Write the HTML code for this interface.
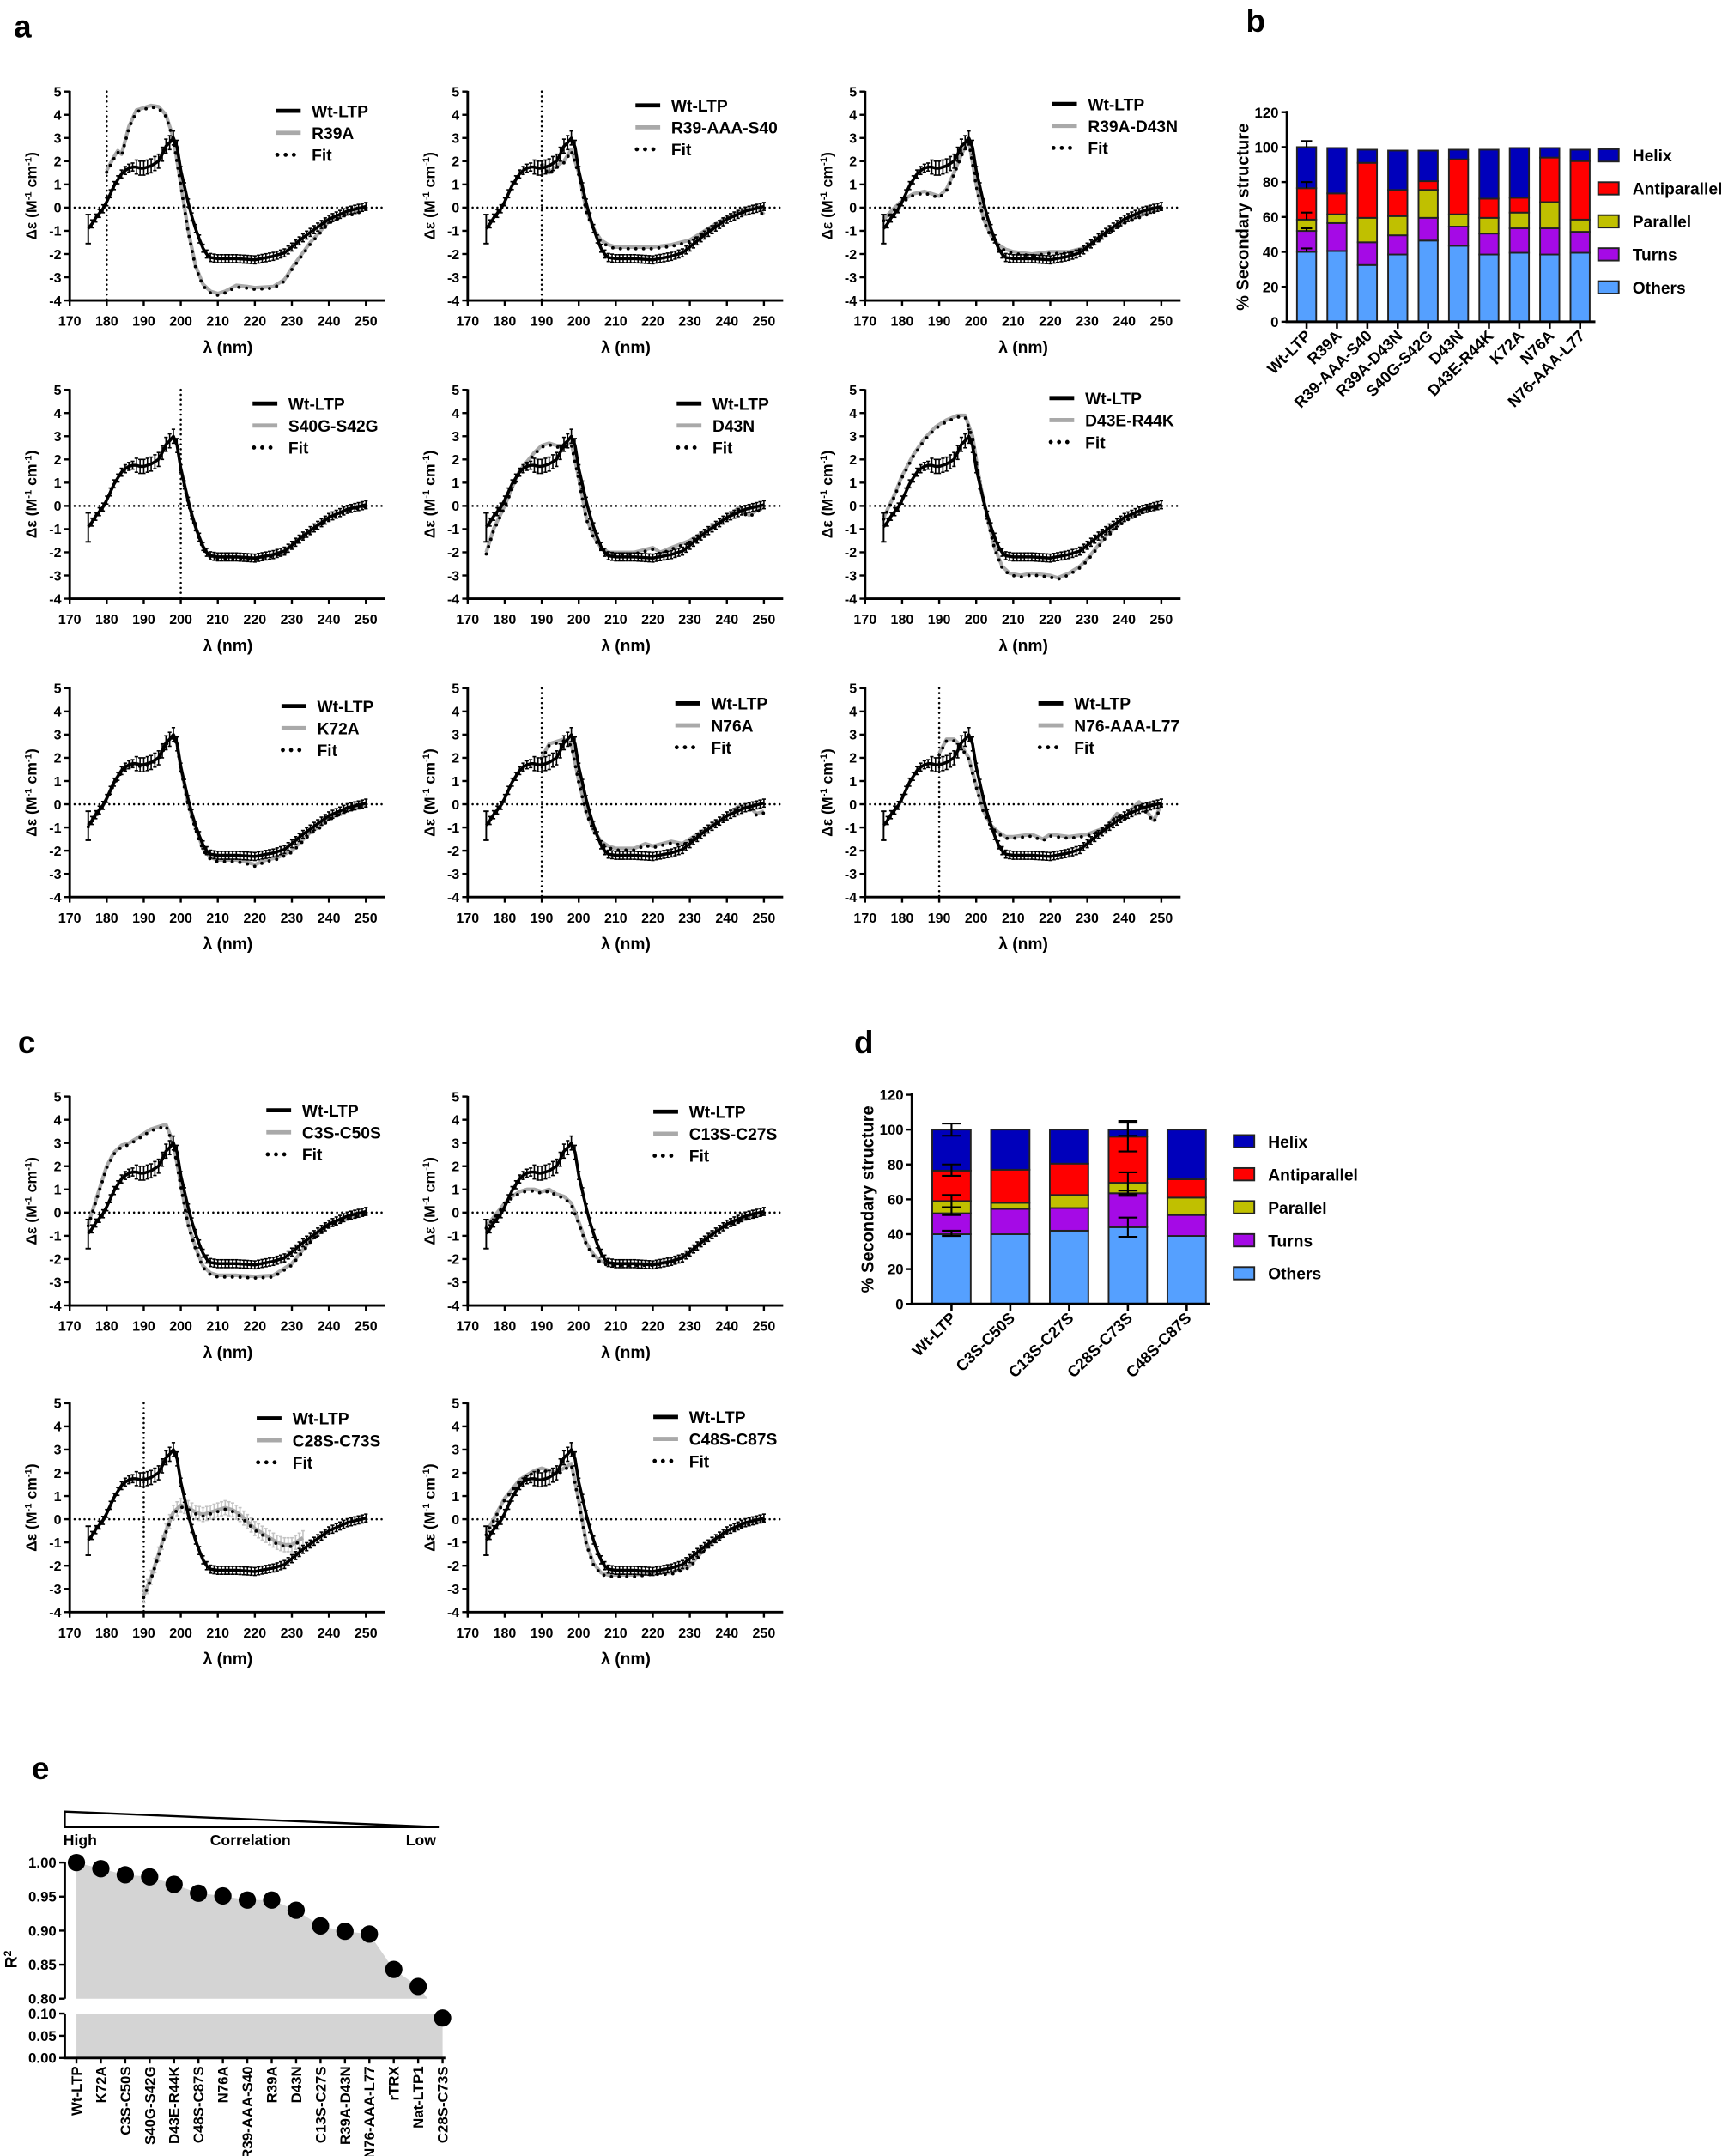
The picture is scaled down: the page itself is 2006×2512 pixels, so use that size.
<!DOCTYPE html>
<html><head><meta charset="utf-8"><style>
html,body{margin:0;padding:0;background:#fff}
svg{display:block}
text{font-family:"Liberation Sans",Arial,sans-serif;font-weight:bold;fill:#000}
</style></head><body>
<svg id="s" xmlns="http://www.w3.org/2000/svg" width="2006" height="2512" viewBox="0 0 1252 1568"></svg>
<script>
const S=document.getElementById('s');const NS='http://www.w3.org/2000/svg';
function el(t,a,txt){const e=document.createElementNS(NS,t);for(const k in a)e.setAttribute(k,a[k]);if(txt!==undefined)e.textContent=txt;S.appendChild(e);return e;}
function line(x1,y1,x2,y2,st,w,extra){return el('line',Object.assign({x1,y1,x2,y2,stroke:st||'#000','stroke-width':w||1.5},extra||{}));}
function txt(x,y,s,fs,anchor,extra){return el('text',Object.assign({x,y,'font-size':fs,'text-anchor':anchor||'start'},extra||{}),s);}
function interp(a,l){if(l<=a[0][0])return a[0][1];for(let i=1;i<a.length;i++){if(l<=a[i][0]){const t=(l-a[i-1][0])/(a[i][0]-a[i-1][0]);return a[i-1][1]+t*(a[i][1]-a[i-1][1]);}}return a[a.length-1][1];}
const W=[[175,-0.9],[176,-0.7],[177,-0.45],[178,-0.25],[179,-0.05],[180,0.25],[181,0.6],[182,0.95],[183,1.2],[184,1.45],[185,1.6],[186,1.7],[187,1.75],[188,1.75],[189,1.7],[190,1.7],[191,1.75],[192,1.8],[193,1.9],[194,2.0],[195,2.3],[196,2.65],[197,2.8],[198,3.0],[199,2.6],[200,1.6],[201,0.9],[202,0.2],[203,-0.4],[204,-0.9],[205,-1.35],[206,-1.75],[207,-2.0],[208,-2.15],[210,-2.2],[215,-2.2],[220,-2.25],[225,-2.1],[228,-1.95],[230,-1.7],[233,-1.3],[236,-0.95],[240,-0.5],[245,-0.15],[250,0.05]];
function wtFrom(l0,extra){return W.filter(p=>p[0]>=l0&&p[0]<=200).concat(extra);}
const plots=[
 {ox:50.6,oy:66.6,name:'R39A',v:180,lx:150,ly:14,d:[[180,1.6],[182,2.2],[183,2.45],[184,2.3],[186,3.5],[188,4.2],[190,4.3],[192,4.4],[194,4.35],[196,4.0],[198,3.0],[200,1.0],[202,-1.0],[204,-2.5],[206,-3.3],[208,-3.6],[210,-3.7],[212,-3.6],[215,-3.35],[218,-3.4],[220,-3.45],[225,-3.4],[228,-3.1],[230,-2.6],[235,-1.5],[240,-0.6],[245,-0.2],[247,-0.25],[250,0.05]]},
 {ox:340,oy:66.6,name:'R39-AAA-S40',v:190,lx:122,ly:10,d:[[190,1.9],[192,1.5],[194,1.8],[196,2.0],[198,2.5],[200,1.5],[202,-0.1],[204,-0.9],[206,-1.4],[208,-1.6],[210,-1.7],[215,-1.7],[220,-1.7],[225,-1.6],[230,-1.4],[235,-0.9],[240,-0.4],[245,-0.1],[248,0.1],[250,-0.3]]},
 {ox:629,oy:66.6,name:'R39A-D43N',v:null,lx:136,ly:9,d:[[175,-0.5],[178,0],[180,0.3],[183,0.6],[186,0.7],[188,0.6],[190,0.5],[192,0.8],[194,1.5],[196,2.3],[198,2.9],[200,1.0],[202,-0.5],[204,-1.2],[206,-1.6],[208,-1.8],[210,-1.9],[215,-2.0],[220,-1.9],[225,-1.9],[230,-1.7],[235,-1.1],[240,-0.6],[245,-0.3],[250,0.0]]},
 {ox:50.6,oy:283.5,name:'S40G-S42G',v:200,lx:133,ly:10,d:W.filter(p=>p[0]>=200)},
 {ox:340,oy:283.5,name:'D43N',v:null,lx:152,ly:10,d:[[175,-2.0],[177,-1.0],[180,0],[182,0.8],[184,1.5],[186,1.9],[188,2.3],[190,2.6],[192,2.7],[194,2.6],[196,2.6],[198,2.7],[200,1.2],[202,-0.5],[204,-1.3],[206,-1.8],[208,-2.0],[210,-2.0],[215,-2.0],[220,-1.8],[222,-2.0],[225,-1.8],[230,-1.5],[235,-1.0],[240,-0.5],[243,-0.1],[246,-0.4],[250,0]]},
 {ox:629,oy:283.5,name:'D43E-R44K',v:null,lx:134,ly:6,d:[[175,-0.5],[178,0.5],[180,1.3],[183,2.2],[186,2.9],[189,3.4],[192,3.7],[195,3.9],[197,3.9],[199,3.0],[201,1.0],[203,-0.5],[205,-1.8],[207,-2.6],[209,-2.9],[212,-3.0],[215,-2.9],[220,-3.0],[222,-3.1],[225,-2.9],[228,-2.6],[230,-2.3],[235,-1.3],[240,-0.6],[245,-0.2],[250,0]]},
 {ox:50.6,oy:500.5,name:'K72A',v:null,lx:154,ly:13,d:wtFrom(175,[[202,0.0],[204,-1.0],[206,-1.9],[208,-2.3],[210,-2.4],[215,-2.4],[218,-2.5],[220,-2.6],[223,-2.4],[226,-2.3],[230,-2.0],[235,-1.2],[238,-0.9],[240,-0.6],[245,-0.2],[250,0]])},
 {ox:340,oy:500.5,name:'N76A',v:190,lx:151,ly:11,d:[[190,2.0],[192,2.6],[194,2.7],[196,2.8],[198,2.6],[200,1.0],[202,-0.3],[204,-1.1],[206,-1.6],[208,-1.8],[210,-1.9],[215,-1.9],[218,-1.7],[220,-1.8],[225,-1.6],[228,-1.7],[230,-1.5],[235,-1.0],[240,-0.5],[243,-0.1],[246,-0.1],[248,-0.4],[250,-0.3]]},
 {ox:629,oy:500.5,name:'N76-AAA-L77',v:190,lx:126,ly:11,d:[[190,2.2],[192,2.8],[194,2.8],[196,2.5],[198,2.0],[200,0.8],[202,-0.3],[204,-0.9],[206,-1.2],[208,-1.4],[210,-1.4],[215,-1.3],[218,-1.5],[220,-1.3],[225,-1.4],[230,-1.3],[235,-1.0],[238,-0.4],[240,-0.6],[242,-0.2],[244,0.1],[246,-0.3],[248,-0.7],[250,0]]},
 {ox:50.6,oy:797.5,name:'C3S-C50S',v:null,lx:143,ly:10,d:[[175,-0.5],[178,1.0],[180,2.0],[182,2.6],[184,2.9],[186,3.0],[188,3.2],[190,3.4],[192,3.6],[194,3.7],[196,3.8],[198,3.0],[200,1.2],[202,-0.5],[204,-1.5],[206,-2.3],[208,-2.6],[210,-2.7],[215,-2.7],[220,-2.75],[225,-2.7],[230,-2.2],[235,-1.2],[240,-0.5],[245,-0.2],[250,0]]},
 {ox:340,oy:797.5,name:'C13S-C27S',v:null,lx:135,ly:11,d:[[175,-0.6],[178,0],[180,0.4],[182,0.7],[184,0.9],[186,1.0],[188,1.0],[190,0.9],[192,1.0],[194,0.8],[196,0.7],[198,0.4],[200,-0.4],[202,-1.3],[204,-1.8],[206,-2.1],[208,-2.2],[210,-2.2],[215,-2.2],[220,-2.2],[225,-2.1],[230,-1.7],[235,-1.0],[240,-0.5],[245,-0.2],[250,0]]},
 {ox:50.6,oy:1020.5,name:'C28S-C73S',v:190,lx:136,ly:11,err:true,d:[[190,-3.3],[192,-2.5],[194,-1.5],[196,-0.5],[198,0.3],[200,0.6],[202,0.5],[204,0.3],[206,0.2],[208,0.3],[210,0.4],[212,0.5],[214,0.4],[216,0.2],[218,-0.1],[220,-0.4],[222,-0.6],[224,-0.8],[226,-1.0],[228,-1.1],[230,-1.1],[232,-0.9],[233,-0.8]]},
 {ox:340,oy:1020.5,name:'C48S-C87S',v:null,lx:135,ly:10,d:[[175,-0.6],[178,0.3],[180,0.9],[182,1.3],[184,1.7],[186,1.9],[188,2.1],[190,2.2],[192,2.1],[194,2.0],[196,2.2],[198,2.4],[200,0.8],[202,-1.0],[204,-1.9],[206,-2.3],[208,-2.4],[210,-2.4],[215,-2.4],[220,-2.3],[225,-2.3],[230,-2.0],[235,-1.1],[240,-0.5],[245,-0.2],[250,0]]}
];
const GR='#a9a9a9';
plots.forEach(p=>{
 const X=l=>p.ox+(l-170)*2.6925, Y=v=>p.oy+(5-v)*16.88;
 line(p.ox,p.oy-0.5,p.ox,Y(-4),'#000',1.8);
 line(p.ox-1,Y(-4),p.ox+229.4,Y(-4),'#000',1.8);
 for(let v=-4;v<=5;v++){line(p.ox-4,Y(v),p.ox,Y(v),'#000',1.5);txt(p.ox-6,Y(v)+3.6,String(v),10,'end');}
 for(let l=170;l<=250;l+=10){line(X(l),Y(-4),X(l),Y(-4)+4,'#000',1.5);txt(X(l),Y(-4)+18.5,String(l),10,'middle');}
 txt(p.ox+115,Y(-4)+38,'λ (nm)',12,'middle');
 const yl=el('text',{x:0,y:0,'font-size':11,'text-anchor':'middle',transform:`translate(${p.ox-24},${p.oy+76}) rotate(-90)`});
 yl.innerHTML='Δε (M<tspan dy="-4" font-size="7">-1</tspan><tspan dy="4"> cm</tspan><tspan dy="-4" font-size="7">-1</tspan><tspan dy="4">)</tspan>';
 line(p.ox,Y(0),p.ox+229.4,Y(0),'#000',1.6,{'stroke-dasharray':'0 3.6','stroke-linecap':'round'});
 if(p.v) line(X(p.v),p.oy,X(p.v),Y(-4),'#000',1.6,{'stroke-dasharray':'0 3.6','stroke-linecap':'round'});
 const pts=p.d.map(q=>X(q[0]).toFixed(1)+','+Y(q[1]).toFixed(1)).join(' ');
 if(p.err){const EG='#c4c4c4';for(let l=p.d[0][0];l<=233;l++){const v=interp(p.d,l);line(X(l),Y(v+0.3),X(l),Y(v-0.3),EG,1);line(X(l)-1.2,Y(v+0.3),X(l)+1.2,Y(v+0.3),EG,1);line(X(l)-1.2,Y(v-0.3),X(l)+1.2,Y(v-0.3),EG,1);}}
 el('polyline',{points:pts,fill:'none',stroke:GR,'stroke-width':2.6,'stroke-linejoin':'round'});
 const fp=p.d.map(q=>X(q[0]).toFixed(1)+','+(Y(q[1])+1.2).toFixed(1)).join(' ');
 el('polyline',{points:fp,fill:'none',stroke:'#000','stroke-width':2.4,'stroke-dasharray':'0 5.6','stroke-linecap':'round'});
 for(let l=176;l<=250;l++){const v=interp(W,l);const e=(l>=188&&l<=199)?0.3:0.17;line(X(l),Y(v+e),X(l),Y(v-e),'#000',1);line(X(l)-1.3,Y(v+e),X(l)+1.3,Y(v+e),'#000',1);line(X(l)-1.3,Y(v-e),X(l)+1.3,Y(v-e),'#000',1);}
 line(X(175),Y(-0.3),X(175),Y(-1.55),'#000',1.2);line(X(175)-2,Y(-0.3),X(175)+2,Y(-0.3),'#000',1.2);line(X(175)-2,Y(-1.55),X(175)+2,Y(-1.55),'#000',1.2);
 el('polyline',{points:W.map(q=>X(q[0]).toFixed(1)+','+Y(q[1]).toFixed(1)).join(' '),fill:'none',stroke:'#000','stroke-width':2.2,'stroke-linejoin':'round'});
 const lx=p.ox+p.lx, ly=p.oy+p.ly;
 line(lx,ly,lx+18,ly,'#000',3);txt(lx+26,ly+4.5,'Wt-LTP',12);
 line(lx,ly+16,lx+18,ly+16,GR,3);txt(lx+26,ly+20.5,p.name,12);
 line(lx+1,ly+32,lx+18,ly+32,'#000',3,{'stroke-dasharray':'0 6','stroke-linecap':'round'});txt(lx+26,ly+36.5,'Fit',12);
});
const COL=['#55a0ff','#a50ae6','#c0c000','#ff0000','#0000bb'];
const NAMES=['Others','Turns','Parallel','Antiparallel','Helix'];
function bars(cfg){
 const Y=v=>cfg.y0-v*(cfg.y0-cfg.y120)/120;
 cfg.data.forEach((d,i)=>{const cx=cfg.c0+i*cfg.step;let prev=0;
  d.v.forEach((t,k)=>{el('rect',{x:cx-cfg.bw/2,y:Y(t),width:cfg.bw,height:Y(prev)-Y(t),fill:COL[k],stroke:'#222','stroke-width':1.2});prev=t;});
  line(cx,Y(0),cx,Y(0)+5,'#000',1.6);
  el('text',{x:0,y:0,'font-size':cfg.fs,'text-anchor':'end',transform:`translate(${cx+4},${Y(0)+11}) rotate(-45)`},d.n);
  (d.e||[]).forEach(e=>{line(cx,Y(e[0]),cx,Y(e[1]),'#000',1.3);[e[0],e[1]].forEach(v=>{if(v!==e[2])line(cx-cfg.cap,Y(v),cx+cfg.cap,Y(v),'#000',1.3);});});
 });
 line(cfg.ax,Y(120)-1,cfg.ax,Y(0),'#000',1.8);line(cfg.ax-1,Y(0),cfg.xend,Y(0),'#000',1.8);
 for(let v=0;v<=120;v+=20){line(cfg.ax-4,Y(v),cfg.ax,Y(v),'#000',1.5);txt(cfg.ax-6,Y(v)+3.8,String(v),10.5,'end');}
 el('text',{x:0,y:0,'font-size':12.5,'text-anchor':'middle',transform:`translate(${cfg.ax-28},${Y(60)}) rotate(-90)`},'% Secondary structure');
 for(let k=4;k>=0;k--){const yy=cfg.ly+(4-k)*24;el('rect',{x:cfg.lx,y:yy-4.5,width:15,height:9,fill:COL[k],stroke:'#222','stroke-width':1.2});txt(cfg.lx+25,yy+4.5,NAMES[k],12);}
}
bars({y0:234,y120:81.6,ax:935.7,xend:1160,c0:950,step:22.1,bw:14,fs:11.5,cap:4,lx:1162,ly:113,data:[
 {n:'Wt-LTP',v:[40,52,58.5,76.5,100],e:[[40,42,40],[52,53.5,52],[58.5,62.5,58.5],[76.5,80,76.5],[100,103.5,100]]},
 {n:'R39A',v:[40.5,56.5,61.5,73.5,99.5]},{n:'R39-AAA-S40',v:[32.5,45.5,59.5,91,98.5]},
 {n:'R39A-D43N',v:[38.5,49.5,60.5,75.5,98]},{n:'S40G-S42G',v:[46.5,59.5,75.5,80.5,98]},
 {n:'D43N',v:[43.5,54.5,61.5,93,98.5]},{n:'D43E-R44K',v:[38.5,50.5,59.5,70.5,98.5]},
 {n:'K72A',v:[39.5,53.5,62.5,71,99.5]},{n:'N76A',v:[38.5,53.5,68.5,94,99.5]},{n:'N76-AAA-L77',v:[39.5,51.5,58.5,92,98.5]}]});
bars({y0:948.3,y120:796.2,ax:663,xend:880,c0:691.8,step:42.75,bw:28,fs:11.5,cap:7,lx:897,ly:830,data:[
 {n:'Wt-LTP',v:[40,52,59,76.5,100],e:[[39,42,null],[51,55.5,null],[55.5,62.5,null],[73.5,80,null],[96.5,103.5,null]]},
 {n:'C3S-C50S',v:[40,54.5,58,77,100]},{n:'C13S-C27S',v:[42,55,62.5,80.5,100]},
 {n:'C28S-C73S',v:[44,63.5,69.5,96,100],e:[[38.5,49.5,null],[62,65,null],[63,75.5,null],[87.5,104,null],[96.5,105,null]]},
 {n:'C48S-C87S',v:[39,51,61,71.5,100]}]});
(function(){
 const vals=[1.0,.991,.982,.979,.968,.955,.951,.945,.945,.93,.907,.899,.895,.843,.818];
 const names=['Wt-LTP','K72A','C3S-C50S','S40G-S42G','D43E-R44K','C48S-C87S','N76A','R39-AAA-S40','R39A','D43N','C13S-C27S','R39A-D43N','N76-AAA-L77','rTRX','Nat-LTP1','C28S-C73S'];
 const X=i=>55.5+i*17.75, YT=v=>1354.6+(1-v)/0.05*24.75, YB=v=>1496.7-v/0.1*32.3;
 let pts=`${X(0)},${YT(0.8)} `+vals.map((v,i)=>`${X(i)},${YT(v)}`).join(' ')+` ${311},${YT(0.8)}`;
 el('polygon',{points:pts,fill:'#d4d4d4'});
 el('polygon',{points:`${X(0)},${YB(0.1)} ${X(15)},${YB(0.1)} ${X(15)},${YB(0)} ${X(0)},${YB(0)}`,fill:'#d4d4d4'});
 line(47,1354,47,YT(0.8),'#000',1.8);line(47,YB(0.1),47,YB(0),'#000',1.8);
 line(46,YB(0),X(15)+2,YB(0),'#000',1.8);
 [[1.0,'1.00'],[0.95,'0.95'],[0.9,'0.90'],[0.85,'0.85'],[0.8,'0.80']].forEach(t=>{line(43,YT(t[0]),47,YT(t[0]),'#000',1.5);txt(41,YT(t[0])+3.7,t[1],10.5,'end');});
 [[0.1,'0.10'],[0.05,'0.05'],[0,'0.00']].forEach(t=>{line(43,YB(t[0]),47,YB(t[0]),'#000',1.5);txt(41,YB(t[0])+3.7,t[1],10.5,'end');});
 vals.forEach((v,i)=>el('circle',{cx:X(i),cy:YT(v),r:6.3,fill:'#000'}));
 el('circle',{cx:X(15),cy:YB(0.09),r:6.3,fill:'#000'});
 names.forEach((n,i)=>{line(X(i),YB(0),X(i),YB(0)+4,'#000',1.5);el('text',{x:0,y:0,'font-size':10.5,'text-anchor':'end',transform:`translate(${X(i)+3.7},${YB(0)+6}) rotate(-90)`},n);});
 const r=el('text',{x:0,y:0,'font-size':12,'text-anchor':'middle',transform:`translate(12,1425) rotate(-90)`});r.innerHTML='R<tspan dy="-4" font-size="7.5">2</tspan>';
 el('polygon',{points:'47,1317.5 319,1328.8 47,1328.8',fill:'#fff',stroke:'#000','stroke-width':1.5});
 txt(46,1342,'High',11);txt(182,1342,'Correlation',11,'middle');txt(317,1342,'Low',11,'end');
})();
txt(10,27,'a',23);txt(906,23,'b',23);txt(13,766,'c',23);txt(621,766,'d',23);txt(23,1294,'e',23);
</script>
</body></html>
